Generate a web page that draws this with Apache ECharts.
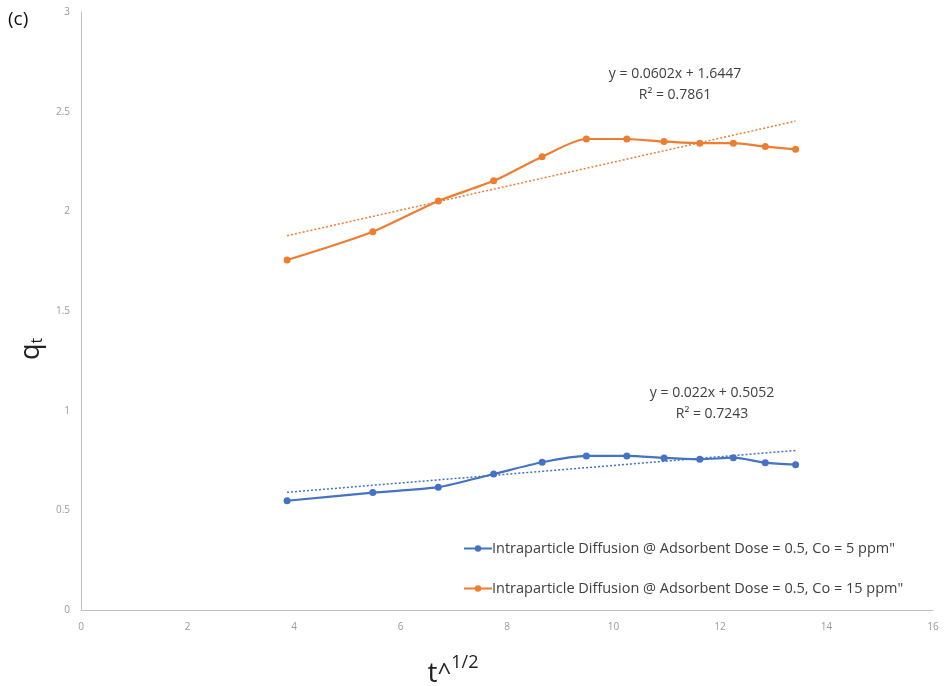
<!DOCTYPE html>
<html>
<head>
<meta charset="utf-8">
<script src="https://cdn.jsdelivr.net/npm/echarts@6/dist/echarts.min.js"></script>
<style>
  html, body { margin: 0; padding: 0; background: #fff; }
  #chart { width: 947px; height: 686px; }
</style>
</head>
<body>
<div id="chart"></div>
<script>
// square root of contact time (x values shared by both runs)
const sqrtT = [3.87, 5.48, 6.71, 7.75, 8.66, 9.49, 10.25, 10.95, 11.62, 12.25, 12.85, 13.42];
// adsorbed amount q_t for each initial concentration
const qt5ppm  = [0.548, 0.589, 0.616, 0.682, 0.741, 0.773, 0.773, 0.763, 0.756, 0.764, 0.739, 0.729];
const qt15ppm = [1.756, 1.898, 2.052, 2.153, 2.274, 2.363, 2.363, 2.350, 2.342, 2.342, 2.325, 2.311];
// linear fits: slope, intercept, R²
const fit5  = [0.022, 0.5052, 0.7243];
const fit15 = [0.0602, 1.6447, 0.7861];
const seriesNames = [
  'Intraparticle Diffusion @ Adsorbent Dose = 0.5, Co = 5 ppm"',
  'Intraparticle Diffusion @ Adsorbent Dose = 0.5, Co = 15 ppm"'
];
const xTicks = [0, 16, 2];
const yTicks = [0, 3, 0.5];

const BLUE = '#4472C4', ORANGE = '#ED7D31';
const FONT = 'Open Sans';

const pairs = (xs, ys) => xs.map((x, i) => [x, ys[i]]);
const fitLine = (f) => {
  const x0 = sqrtT[0], x1 = sqrtT[sqrtT.length - 1];
  return [[x0, f[0] * x0 + f[1]], [x1, f[0] * x1 + f[1]]];
};
const eqText = (f) => 'y = ' + f[0] + 'x + ' + f[1] + '\nR² = ' + f[2];

const chart = echarts.init(document.getElementById('chart'));
chart.setOption({
  animation: false,
  textStyle: { fontFamily: FONT },
  grid: { left: 81, right: 14, top: 12, bottom: 76, outerBoundsMode: 'none', containLabel: false },
  xAxis: {
    type: 'value', min: xTicks[0], max: xTicks[1], interval: xTicks[2],
    axisLine: { lineStyle: { color: '#bfbfbf', width: 1 } },
    axisTick: { show: false },
    splitLine: { show: false },
    axisLabel: { color: '#9a9a9a', fontSize: 10, margin: 12, fontFamily: FONT },
    name: '{t|t}{c|^}{s|1/2}',
    nameLocation: 'middle', nameGap: 44,
    nameTextStyle: {
      padding: [0, 108, 0, 0],
      rich: {
        t: { fontSize: 28, color: '#222', fontFamily: FONT, verticalAlign: 'bottom', lineHeight: 34 },
        c: { fontSize: 24, color: '#222', fontFamily: FONT, verticalAlign: 'bottom', lineHeight: 34, padding: [0, 0, 3, 0] },
        s: { fontSize: 18, color: '#222', fontFamily: FONT, verticalAlign: 'top', lineHeight: 34, padding: [0, 0, 8, 0] }
      }
    }
  },
  yAxis: {
    type: 'value', min: yTicks[0], max: yTicks[1], interval: yTicks[2],
    axisLine: { show: true, lineStyle: { color: '#bfbfbf', width: 1 } },
    axisTick: { show: false },
    splitLine: { show: false },
    axisLabel: { color: '#9a9a9a', fontSize: 10, margin: 11, fontFamily: FONT },
    name: '{q|q}{t|t}',
    nameLocation: 'middle', nameGap: 31, nameRotate: 90,
    nameTextStyle: {
      padding: [0, 76, 0, 0],
      rich: {
        q: { fontSize: 27, color: '#222', fontFamily: FONT },
        t: { fontSize: 16, color: '#222', fontFamily: FONT, padding: [12, 0, 0, 0] }
      }
    }
  },
  legend: {
    orient: 'vertical',
    left: 458, top: 536,
    itemGap: 25, itemWidth: 28, itemHeight: 8,
    textStyle: { fontSize: 14.5, color: '#404040', fontFamily: FONT, padding: [0, 0, 0, -5] },
    data: seriesNames
  },
  series: [
    {
      name: seriesNames[0], type: 'line', smooth: 0.25,
      data: pairs(sqrtT, qt5ppm),
      symbol: 'circle', symbolSize: 7,
      lineStyle: { color: BLUE, width: 2.2 },
      itemStyle: { color: BLUE },
      z: 3
    },
    {
      name: seriesNames[1], type: 'line', smooth: 0.25,
      data: pairs(sqrtT, qt15ppm),
      symbol: 'circle', symbolSize: 7,
      lineStyle: { color: ORANGE, width: 2.2 },
      itemStyle: { color: ORANGE },
      z: 3
    },
    {
      type: 'line', data: fitLine(fit5), symbol: 'none', silent: true,
      lineStyle: { color: BLUE, width: 1.5, type: [2, 2] }, z: 2
    },
    {
      type: 'line', data: fitLine(fit15), symbol: 'none', silent: true,
      lineStyle: { color: ORANGE, width: 1.5, type: [2, 2] }, z: 2
    }
  ],
  graphic: [
    { type: 'text', left: 8, top: 10,
      style: { text: '(c)', fontSize: 19, fill: '#111', fontFamily: FONT } },
    { type: 'text', x: 675, y: 64,
      style: { text: eqText(fit15), fontSize: 14, lineHeight: 21, fill: '#404040',
               align: 'center', fontFamily: FONT } },
    { type: 'text', x: 712, y: 383,
      style: { text: eqText(fit5), fontSize: 14, lineHeight: 21, fill: '#404040',
               align: 'center', fontFamily: FONT } }
  ]
});
</script>
</body>
</html>
